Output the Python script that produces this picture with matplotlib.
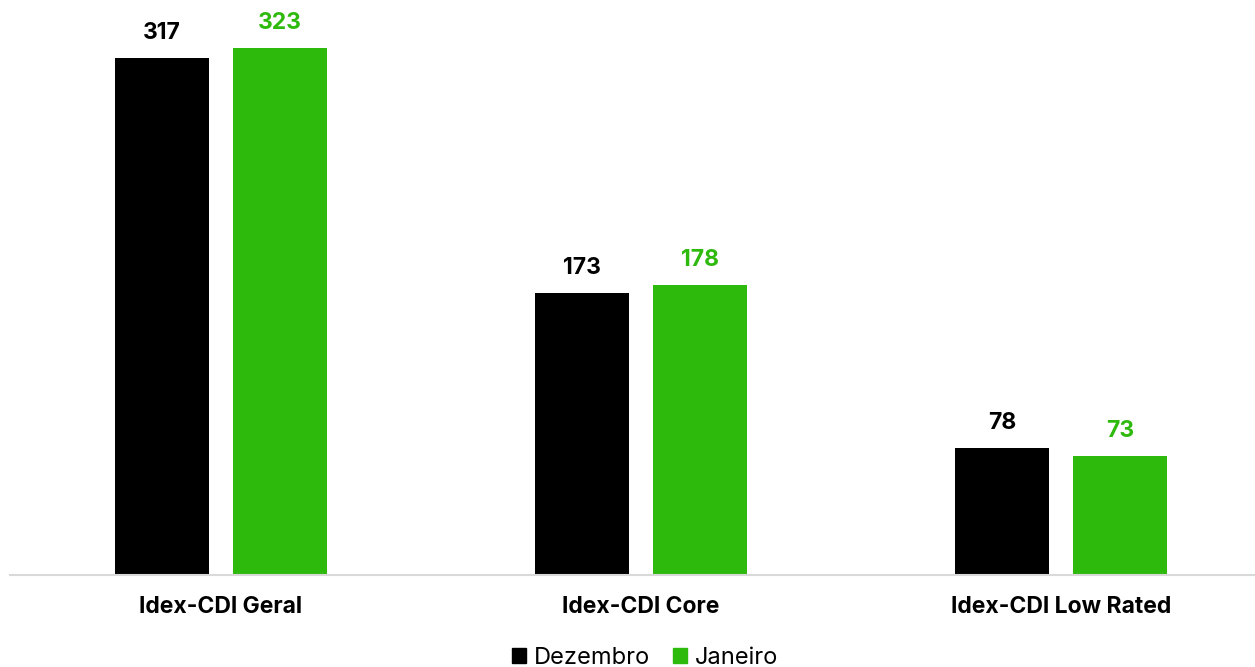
import numpy as np
import matplotlib.pyplot as plt
from matplotlib.patches import Patch

categories = ['Idex-CDI Geral', 'Idex-CDI Core', 'Idex-CDI Low Rated']
dezembro = [317, 173, 78]
janeiro = [323, 178, 73]
series_names = ['Dezembro', 'Janeiro']

black = '#000000'
green = '#2eb90d'

plt.rcParams['font.family'] = ['Inter', 'DejaVu Sans']

fig = plt.figure(figsize=(12.55, 6.67), dpi=100)
ax = fig.add_axes([10/1255, 92/667, 1245/1255, 575/667])

x = np.arange(len(categories))
w = 0.224
off = 0.1405
b1 = ax.bar(x - off, dezembro, w, color=black)
b2 = ax.bar(x + off, janeiro, w, color=green)

for bars, vals, c in [(b1, dezembro, black), (b2, janeiro, green)]:
    for b, v in zip(bars, vals):
        ax.annotate(str(v), (b.get_x() + b.get_width()/2, v), xytext=(0, 10),
                    textcoords='offset points', ha='center', va='bottom',
                    fontsize=16.5, fontweight='bold', color=c)

ax.set_xlim(-0.502, 2.462)
ax.set_ylim(0, 352.6)
ax.set_xticks(x)
ax.set_xticklabels(categories, fontsize=16.5, fontweight='bold')
ax.tick_params(axis='x', length=0, pad=15)
ax.set_yticks([])
for s in ['top', 'right', 'left']:
    ax.spines[s].set_visible(False)
ax.spines['bottom'].set_color('#d9d9d9')
ax.spines['bottom'].set_linewidth(1.5)

handles = [Patch(color=black), Patch(color=green)]
fig.legend(handles, series_names, loc='center', bbox_to_anchor=(0.514, 9/667),
           ncol=2, frameon=False, fontsize=17, handlelength=0.6, handleheight=0.6,
           handletextpad=0.3, columnspacing=1.0)

fig.savefig('out.png', dpi=100)
